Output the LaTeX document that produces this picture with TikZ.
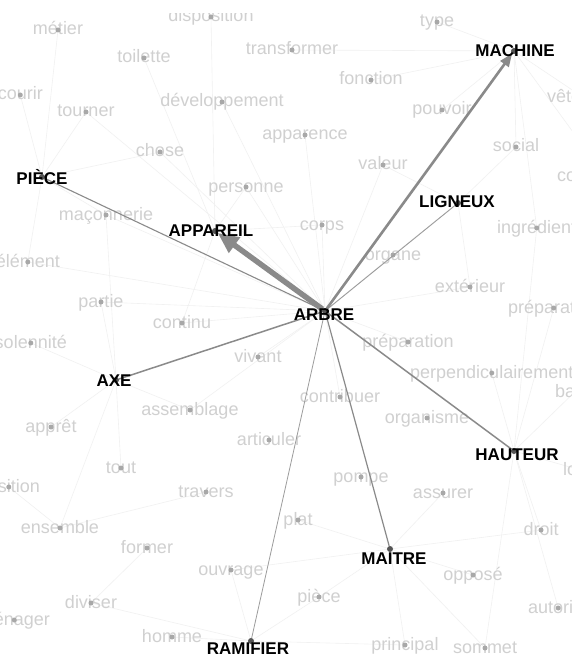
\documentclass[tikz,border=0pt]{standalone}
\usepackage{fontspec}
\setmainfont{Liberation Sans}
\usetikzlibrary{arrows.meta}
\pgfdeclarelayer{faint}
\pgfdeclarelayer{words}
\pgfdeclarelayer{edges}
\pgfsetlayers{faint,words,edges,main}
\definecolor{wordgray}{HTML}{D0D0D0}
\definecolor{dotgray}{HTML}{A8A8A8}
\definecolor{faintgray}{HTML}{F1F1F1}
\definecolor{edgegray}{HTML}{8A8A8A}
\definecolor{keydotgray}{HTML}{555555}
\tikzset{
  word/.style={text=wordgray, font=\fontsize{18}{20}\selectfont, inner sep=0pt},
  wdot/.style={circle, fill=dotgray, inner sep=0pt, minimum size=5pt},
  keylabel/.style={text=black, font=\bfseries\fontsize{17}{20}\selectfont, inner sep=0pt},
  kdot/.style={circle, fill=keydotgray, inner sep=0pt, minimum size=6pt},
  faintline/.style={draw=faintgray, line width=0.6pt},
  mainedge/.style={draw=edgegray},
}
\newcommand\gw[4]{\node[word,anchor=#2] (#1) at (#3) {#4};\node[wdot] (#1d) at ([yshift=5pt]#1.base) {};}
\begin{document}
\begin{tikzpicture}[x=1pt,y=-1pt]
\useasboundingbox (0,0) rectangle (571,655);
\begin{pgfonlayer}{faint}
\fill[white] (0,0) rectangle (571,655);
\end{pgfonlayer}
% background words
\begin{pgfonlayer}{words}
\gw{disp}{base}{211,22}{disposition}
\fill[white] (150,0) rectangle (275,13);
\gw{metier}{base}{58,35}{métier}
\gw{toil}{base}{144,63}{toilette}
\gw{transf}{base}{292,55}{transformer}
\gw{type}{base}{437,27}{type}
\gw{fonct}{base}{371,85}{fonction}
\gw{courir}{base east}{43,100}{courir}
\gw{tourner}{base}{86,117}{tourner}
\gw{devel}{base}{222,107}{développement}
\gw{pouv}{base}{442,115}{pouvoir}
\gw{vet}{base west}{547,103}{vêtement}
\gw{appar}{base}{305,140}{apparence}
\gw{chose}{base}{160,157}{chose}
\gw{social}{base}{516,152}{social}
\gw{valeur}{base}{383,170}{valeur}
\gw{constr}{base west}{557,182}{construction}
\gw{pers}{base}{246,192}{personne}
\gw{macon}{base}{106,220}{maçonnerie}
\gw{corps}{base}{322,230}{corps}
\gw{ingr}{base west}{497,233}{ingrédient}
\gw{organe}{base}{393,260}{organe}
\gw{elem}{base east}{60,267}{élément}
\gw{exter}{base}{470,292}{extérieur}
\gw{partie}{base}{101,307}{partie}
\gw{prepR}{base west}{508,313}{préparation}
\gw{contin}{base}{182,328}{continu}
\gw{prep}{base}{408,347}{préparation}
\gw{solen}{base east}{67,348}{solennité}
\gw{vivant}{base}{258,362}{vivant}
\gw{perp}{base west}{410,378}{perpendiculairement}
\gw{bas}{base west}{555,397}{base}
\gw{contr}{base}{340,402}{contribuer}
\gw{assem}{base}{190,415}{assemblage}
\gw{organis}{base}{427,423}{organisme}
\gw{appret}{base}{51,432}{apprêt}
\gw{artic}{base}{269,445}{articuler}
\gw{tout}{base}{121,473}{tout}
\gw{long}{base west}{563,475}{long}
\gw{pompe}{base}{361,482}{pompe}
\gw{posit}{base east}{40,492}{position}
\gw{travers}{base}{206,497}{travers}
\gw{assur}{base}{443,498}{assurer}
\gw{plat}{base}{298,525}{plat}
\gw{ensem}{base}{60,533}{ensemble}
\gw{droit}{base}{541,535}{droit}
\gw{former}{base}{147,553}{former}
\gw{ouvr}{base}{231,575}{ouvrage}
\gw{oppose}{base}{473,580}{opposé}
\gw{pieceb}{base}{319,602}{pièce}
\gw{diviser}{base}{91,608}{diviser}
\gw{autor}{base west}{528,613}{autorité}
\gw{menag}{base east}{50,625}{ménager}
\gw{homme}{base}{172,642}{homme}
\gw{princ}{base}{405,650}{principal}
\gw{sommet}{base}{485,653}{sommet}
\end{pgfonlayer}
% key nodes
\begin{pgfonlayer}{edges}
\node[kdot] (arbreP) at (325,311) {};
\node[kdot] (pieceP) at (42,177) {};
\node[kdot] (appareilP) at (215,231) {};
\node[kdot] (machineP) at (514,51) {};
\node[kdot] (ligneuxP) at (458,203) {};
\node[kdot] (axeP) at (116,380) {};
\node[kdot] (hauteurP) at (514,451) {};
\node[kdot] (maitreP) at (390,549) {};
\node[kdot] (ramifierP) at (251,641) {};
\end{pgfonlayer}
\node[keylabel] (arbre) at (324,315) {ARBRE};
\node[keylabel] (piece) at (42,177) {PIÈCE};
\node[keylabel] (appareil) at (211,231) {APPAREIL};
\node[keylabel] (machine) at (515,51) {MACHINE};
\node[keylabel] (ligneux) at (457,202) {LIGNEUX};
\node[keylabel] (axe) at (114,381) {AXE};
\node[keylabel] (hauteur) at (517,455) {HAUTEUR};
\node[keylabel] (maitre) at (394,559) {MAITRE};
\node[keylabel] (ramifier) at (248,649) {RAMIFIER};
% faint background connections
\begin{pgfonlayer}{faint}
\foreach \a/\b in {arbreP/chosed, arbreP/persd, arbreP/develd, arbreP/corpsd, arbreP/macond,
  arbreP/appard, arbreP/valeurd, arbreP/organed, arbreP/contind, arbreP/vivantd, arbreP/partied,
  arbreP/prepd, arbreP/contrd, arbreP/exterd, arbreP/assemd, arbreP/tournerd, arbreP/elemd,
  machineP/typed, machineP/vetd, machineP/sociald, machineP/constrd, machineP/fonctd,
  machineP/pouvd, machineP/transfd, machineP/ingrd,
  maitreP/princd, maitreP/sommetd, maitreP/piecebd, maitreP/opposed, maitreP/ouvrd,
  maitreP/platd, maitreP/droitd, maitreP/assurd,
  hauteurP/droitd, hauteurP/autord, hauteurP/longd, hauteurP/basd, hauteurP/perpd,
  hauteurP/sommetd, hauteurP/ingrd, hauteurP/prepRd,
  axeP/assemd, axeP/appretd, axeP/partied, axeP/solend, axeP/ensemd, axeP/toutd, axeP/macond,
  pieceP/tournerd, pieceP/courird, pieceP/metierd, pieceP/macond, pieceP/elemd, pieceP/chosed,
  ramifierP/hommed, ramifierP/piecebd, ramifierP/ouvrd, ramifierP/princd, ramifierP/diviserd,
  appareilP/corpsd, appareilP/persd, appareilP/toild, appareilP/contind, appareilP/dispd,
  ligneuxP/valeurd, ligneuxP/organed, ligneuxP/exterd, ligneuxP/sociald,
  ensemd/traversd, diviserd/formerd, positd/ensemd}
  {\draw[faintline] (\a) -- (\b);}
\end{pgfonlayer}
% main connections
\begin{pgfonlayer}{edges}
\draw[mainedge, line width=1.1pt] (arbreP) -- (pieceP);
\draw[mainedge, line width=1.5pt] (arbreP) -- (axeP);
\draw[mainedge, line width=0.9pt, draw=edgegray!85] (arbreP) -- (ligneuxP);
\draw[mainedge, line width=1.5pt] (arbreP) -- (hauteurP);
\draw[mainedge, line width=1.2pt] (arbreP) -- (maitreP);
\draw[mainedge, line width=0.8pt, draw=edgegray!85] (arbreP) -- (ramifierP);
\draw[mainedge, line width=2.6pt, -{Triangle[width=10pt,length=13pt]}] (arbreP) -- (machineP);
\draw[mainedge, line width=5.5pt, -{Triangle[width=18pt,length=21pt]}] (arbreP) -- (appareilP);
\end{pgfonlayer}
\end{tikzpicture}
\end{document}
